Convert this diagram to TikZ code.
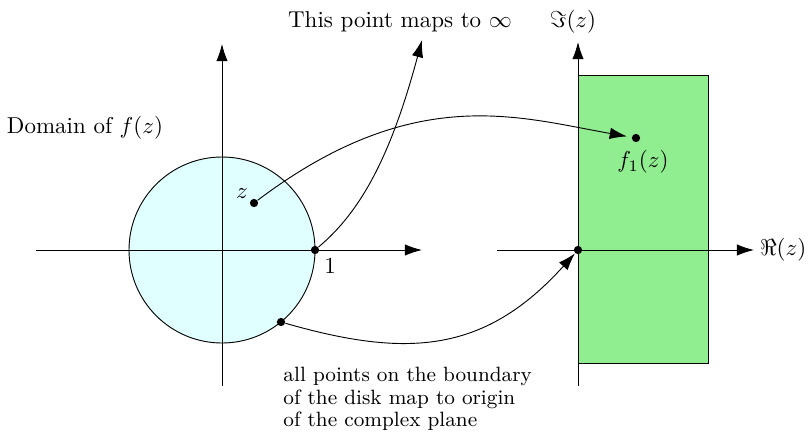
\documentclass[tikz,border=0pt]{standalone}
\usepackage{amsmath}
\usepackage{amssymb}
\usetikzlibrary{arrows.meta}
\definecolor{diskfill}{HTML}{E0FFFF}
\definecolor{planefill}{HTML}{90EE90}
\tikzset{
  mapdot/.style={circle, fill=black, inner sep=0pt, minimum size=3.6pt},
}
\begin{document}
\begin{tikzpicture}[x=0.435pt, y=0.435pt, line width=0.4pt, >={Latex[length=7.5pt,width=5pt]}]
\useasboundingbox (0,0) rectangle (809,432);
% domain: the unit disk
\coordinate (disk) at (222,182);
\draw[fill=diskfill] (disk) circle (93);
\node at (85,304) {Domain of $f(z)$};
% image: the strip in the right plane
\draw[fill=planefill] (578,69) rectangle (708,357);
% left axes
\coordinate (lx0) at (36,182);
\coordinate (lx1) at (422,182);
\coordinate (ly0) at (222,46);
\coordinate (ly1) at (222,388);
\draw[->] (lx0) -- (lx1);
\draw[->] (ly0) -- (ly1);
% right axes
\coordinate (rx0) at (497,182);
\coordinate (rx1) at (754,182);
\coordinate (ry0) at (578,46);
\coordinate (ry1) at (578,390);
\draw[->] (rx0) -- (rx1);
\draw[->] (ry0) -- (ry1);
\node[anchor=east, inner sep=1pt] (relabel) at (809,182) {$\Re(z)$};
\node (imlabel) at (573,410) {$\Im(z)$};
% points
\node[mapdot] (z) at (254,229) {};
\node (zlabel) at (242,238) {$z$};
\node[mapdot] (one) at (315,182) {};
\node (onelabel) at (330,166) {$1$};
\node[mapdot] (edge) at (281,110) {};
\node[mapdot] (fz) at (636,294) {};
\node (fzlabel) at (643,270) {$f_1(z)$};
\node[mapdot] (origin) at (578,182) {};
% the maps
\coordinate (infty) at (422,392);
\node (inftylabel) at (400,410) {This point maps to $\infty$};
\draw[->, shorten >=2pt] (z) .. controls +(37:200) and +(170:120) .. (fz);
\draw[->] (one) .. controls +(40:60) and +(-105:120) .. (infty);
\draw[->] (edge) .. controls +(-16:130) and +(228:140) .. (origin);
\node[anchor=north west, inner sep=0pt, align=left, font=\small] (note) at (283,65)
  {all points on the boundary\\[-1.2pt] of the disk map to origin\\[-1.2pt] of the complex plane};
\end{tikzpicture}
\end{document}
